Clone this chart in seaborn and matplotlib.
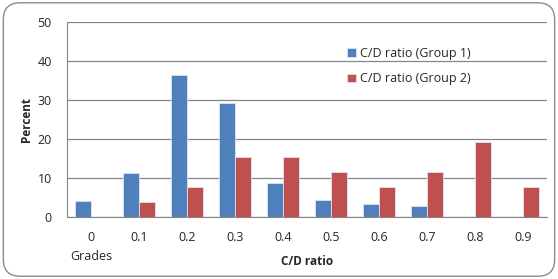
import numpy as np
import pandas as pd
import matplotlib.pyplot as plt
from matplotlib.patches import FancyBboxPatch
import seaborn as sns

# data
ratios = ["0", "0.1", "0.2", "0.3", "0.4", "0.5", "0.6", "0.7", "0.8", "0.9"]
group1 = [4.1, 11.3, 36.4, 29.3, 8.6, 4.4, 3.3, 2.8, 0.0, 0.0]
group2 = [0.0, 3.85, 7.7, 15.4, 15.4, 11.5, 7.7, 11.5, 19.2, 7.7]
series_names = ["C/D ratio (Group 1)", "C/D ratio (Group 2)"]
colors = ["#4F81BD", "#C0504D"]

df = pd.DataFrame({
    "ratio": ratios * 2,
    "percent": group1 + group2,
    "series": [series_names[0]] * len(ratios) + [series_names[1]] * len(ratios),
})

sns.set_style("white")
plt.rcParams["font.family"] = ["Open Sans", "DejaVu Sans"]

fig = plt.figure(figsize=(5.58, 2.79), dpi=100)
ax = fig.add_axes([67 / 558, 1 - 217 / 279, 480 / 558, 195 / 279])

# rounded frame around the chart
frame = FancyBboxPatch((0.006, 0.01), 0.988, 0.98, boxstyle="round,pad=0,rounding_size=0.03",
                       transform=fig.transFigure, fill=False, edgecolor="#8c8c8c", lw=1.0,
                       mutation_aspect=2.0)
fig.patches.append(frame)

sns.barplot(df, x="ratio", y="percent", hue="series", palette=colors, width=0.67,
            ax=ax, edgecolor="#dbe5f1", linewidth=0.6, saturation=1)

ax.set_ylim(0, 50)
ax.set_yticks(range(0, 51, 10))
ax.grid(axis="y", color="#868686", lw=0.9)
ax.set_axisbelow(True)
for s in ["top", "right"]:
    ax.spines[s].set_visible(False)
for s in ["left", "bottom"]:
    ax.spines[s].set_color("#868686")
ax.tick_params(axis="y", length=3, color="#868686", labelsize=9, pad=8)
ax.tick_params(axis="x", length=0, labelsize=9, pad=10)

ax.set_xlabel("C/D ratio", fontsize=8.5, fontweight="bold", labelpad=8)
ax.set_ylabel("Percent", fontsize=8.5, fontweight="bold", labelpad=3)
ax.text(0, -0.2, "Grades", transform=ax.get_xaxis_transform(), ha="center", va="center",
        fontsize=9)

ax.legend(loc="upper left", bbox_to_anchor=(0.56, 0.93), frameon=False, fontsize=9,
          handlelength=0.7, handleheight=0.7, handletextpad=0.3, labelspacing=1.0)

fig.savefig("out.png", dpi=100)
